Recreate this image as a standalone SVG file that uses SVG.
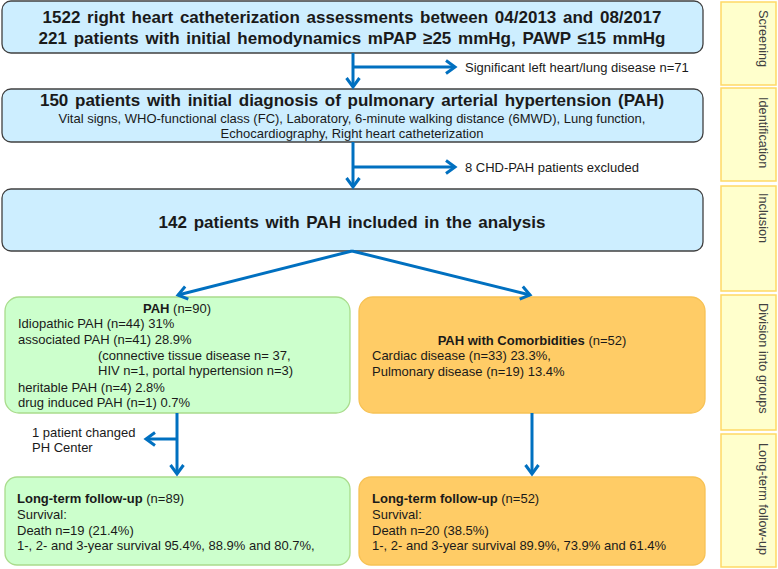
<svg xmlns="http://www.w3.org/2000/svg" width="778" height="569" viewBox="0 0 778 569">
<style>
text{font-family:"Liberation Sans",Arial,sans-serif;fill:#1a1a1a}
.blue{fill:#cdeeff;stroke:#404040;stroke-width:1.3}
.green{fill:#ccffcc;stroke:#a9dc8c;stroke-width:1.3}
.orange{fill:#ffcc66;stroke:#f7c255;stroke-width:1.3}
.side{fill:#ffffcc;stroke:#ffd966;stroke-width:1.5}
.h{font-size:17px;font-weight:bold;word-spacing:2px}
.t{font-size:13px}
.s{font-size:13px}
.lab{font-size:12.7px;fill:#404040}
.c line{stroke:#0070c0;stroke-width:3;fill:none}
</style>
<defs>
<marker id="ah" markerUnits="userSpaceOnUse" markerWidth="16" markerHeight="18" viewBox="-13 -9 16 18" refX="0" refY="0" orient="auto">
<path d="M-9,-6.5 L0,0 L-9,6.5" fill="none" stroke="#0070c0" stroke-width="3"/>
</marker>
</defs>
<rect width="778" height="569" fill="#ffffff"/>

<g id="screening-box">
<rect class="blue" x="2" y="1" width="701" height="52" rx="9"/>
<text class="h" x="352" y="23" text-anchor="middle">1522 right heart catheterization assessments between 04/2013 and 08/2017</text>
<text class="h" x="352" y="44" text-anchor="middle">221 patients with initial hemodynamics mPAP ≥25 mmHg, PAWP ≤15 mmHg</text>
</g>

<g id="excl-lung">
<text class="s" x="465" y="72">Significant left heart/lung disease n=71</text>
</g>

<g id="identification-box">
<rect class="blue" x="2" y="89" width="701" height="53" rx="9"/>
<text class="h" x="352" y="106" text-anchor="middle">150 patients with initial diagnosis of pulmonary arterial hypertension (PAH)</text>
<text class="s" x="352" y="122.5" text-anchor="middle">Vital signs, WHO-functional  class (FC), Laboratory, 6-minute walking distance (6MWD), Lung function,</text>
<text class="s" x="352" y="137.5" text-anchor="middle">Echocardiography, Right heart catheterization</text>
</g>

<g id="excl-chd">
<text class="s" x="465" y="172">8 CHD-PAH patients excluded</text>
</g>

<g id="inclusion-box">
<rect class="blue" x="2" y="189" width="701" height="62" rx="9"/>
<text class="h" x="352" y="228" text-anchor="middle">142 patients with PAH included in the analysis</text>
</g>

<g id="pah-box">
<rect class="green" x="5" y="297" width="345" height="116" rx="14"/>
<text class="t" x="177" y="312.5" text-anchor="middle"><tspan font-weight="bold">PAH</tspan> (n=90)</text>
<text class="t" x="18" y="327.5">Idiopathic PAH (n=44) 31%</text>
<text class="t" x="18" y="343.5">associated PAH (n=41) 28.9%</text>
<text class="t" x="98" y="359.5">(connective tissue disease n= 37,</text>
<text class="t" x="98" y="374.5">HIV n=1, portal hypertension  n=3)</text>
<text class="t" x="18" y="391.5">heritable PAH (n=4) 2.8%</text>
<text class="t" x="18" y="406.5">drug induced PAH (n=1) 0.7%</text>
</g>

<g id="comorb-box">
<rect class="orange" x="359" y="297" width="346" height="116" rx="14"/>
<text class="t" x="532" y="344.5" text-anchor="middle"><tspan font-weight="bold">PAH with Comorbidities</tspan> (n=52)</text>
<text class="t" x="372" y="359.5">Cardiac disease (n=33) 23.3%,</text>
<text class="t" x="372" y="375.5">Pulmonary disease (n=19) 13.4%</text>
</g>

<g id="changed-center">
<text class="t" x="32" y="436.5">1 patient changed</text>
<text class="t" x="32" y="451.5">PH Center</text>
</g>

<g id="followup-pah">
<rect class="green" x="5" y="477" width="345" height="88" rx="12"/>
<text class="t" x="17" y="502.5"><tspan font-weight="bold">Long-term follow-up</tspan> (n=89)</text>
<text class="t" x="17" y="518.5">Survival:</text>
<text class="t" x="17" y="534.5">Death n=19 (21.4%)</text>
<text class="t" x="17" y="549.5">1-, 2- and 3-year survival  95.4%, 88.9% and 80.7%,</text>
</g>

<g id="followup-comorb">
<rect class="orange" x="359" y="477" width="346" height="88" rx="12"/>
<text class="t" x="372" y="502.5"><tspan font-weight="bold">Long-term follow-up</tspan> (n=52)</text>
<text class="t" x="372" y="518.5">Survival:</text>
<text class="t" x="372" y="534.5">Death n=20 (38.5%)</text>
<text class="t" x="372" y="549.5">1-, 2- and 3-year survival  89.9%, 73.9% and 61.4%</text>
</g>

<g id="side-screening">
<rect class="side" x="721" y="2" width="55" height="83"/>
<text class="lab" x="759" y="10" transform="rotate(90 759 10)">Screening</text>
</g>
<g id="side-identification">
<rect class="side" x="721" y="88" width="55" height="93"/>
<text class="lab" x="759" y="97" transform="rotate(90 759 97)">Identification</text>
</g>
<g id="side-inclusion">
<rect class="side" x="721" y="186" width="55" height="105"/>
<text class="lab" x="759" y="193" transform="rotate(90 759 193)">Inclusion</text>
</g>
<g id="side-division">
<rect class="side" x="721" y="295" width="55" height="135"/>
<text class="lab" x="759" y="303" transform="rotate(90 759 303)">Division into groups</text>
</g>
<g id="side-followup">
<rect class="side" x="721" y="434" width="55" height="133"/>
<text class="lab" x="759" y="443" transform="rotate(90 759 443)">Long-term follow-up</text>
</g>

<g id="connectors" class="c">
<line x1="353" y1="53" x2="353" y2="87" marker-end="url(#ah)"/>
<line x1="353" y1="67" x2="455" y2="67" marker-end="url(#ah)"/>
<line x1="353" y1="142" x2="353" y2="187" marker-end="url(#ah)"/>
<line x1="353" y1="167" x2="455" y2="167" marker-end="url(#ah)"/>
<line x1="352" y1="251" x2="178" y2="295" marker-end="url(#ah)"/>
<line x1="352" y1="251" x2="530" y2="295" marker-end="url(#ah)"/>
<line x1="177" y1="413" x2="177" y2="474" marker-end="url(#ah)"/>
<line x1="177" y1="439" x2="146" y2="439" marker-end="url(#ah)"/>
<line x1="532" y1="413" x2="532" y2="474" marker-end="url(#ah)"/>
</g>
</svg>
